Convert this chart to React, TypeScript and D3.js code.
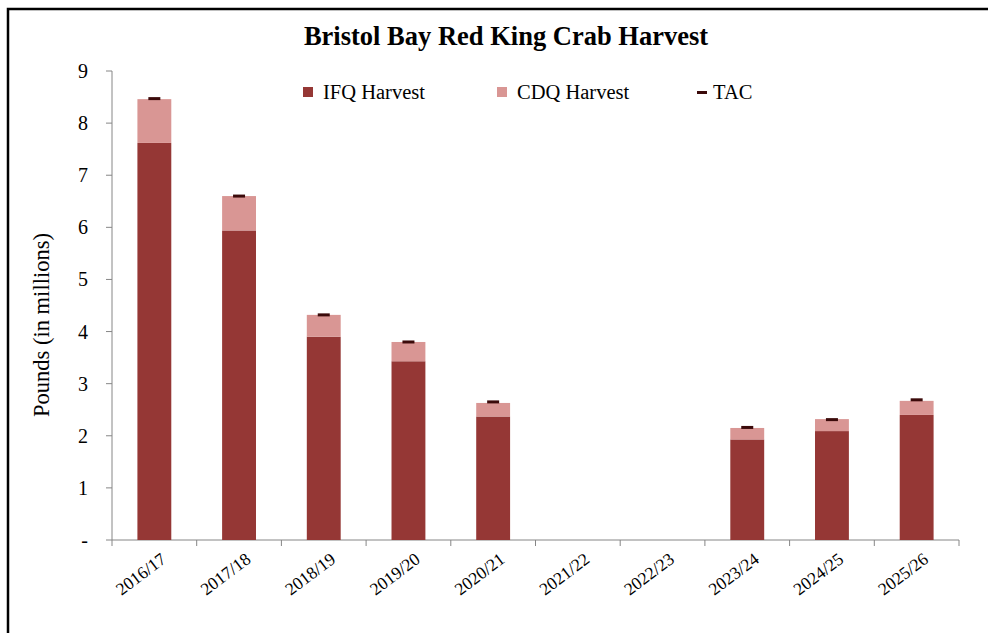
import React from "react";
import * as d3 from "d3";

const categories = ["2016/17", "2017/18", "2018/19", "2019/20", "2020/21", "2021/22", "2022/23", "2023/24", "2024/25", "2025/26"];
const ifqHarvest = [7.62, 5.94, 3.9, 3.43, 2.37, 0, 0, 1.93, 2.09, 2.4];
const cdqHarvest = [0.84, 0.66, 0.42, 0.37, 0.26, 0, 0, 0.22, 0.23, 0.27];
const tac = [8.47, 6.6, 4.32, 3.8, 2.65, null, null, 2.16, 2.31, 2.69];
const yTicks = [0, 1, 2, 3, 4, 5, 6, 7, 8, 9];

const W = 988, H = 633;
const left = 112, right = 959, top = 71, bottom = 540;
const IFQ = "#953735", CDQ = "#D99694", TACC = "#3b0a0a";
const FONT = "'Liberation Serif', 'DejaVu Serif', serif";
const AXIS = "#868686";

export default function App() {
  const x = d3.scaleBand<string>().domain(categories).range([left, right]).paddingInner(0.6).paddingOuter(0.3);
  const xb = d3.scaleBand<string>().domain(categories).range([left, right]);
  const y = d3.scaleLinear().domain([0, 9]).range([bottom, top]);
  const bw = x.bandwidth();

  return (
    <svg width={W} height={H} style={{ position: "absolute", left: 0, top: 0, background: "#fff" }} fontFamily={FONT}>
      <rect x={0} y={0} width={W} height={H} fill="#fff" />
      <path d={`M8,${H + 2} L8,9 L${W + 2},9`} fill="none" stroke="#000" strokeWidth={2.5} />
      <text x={506} y={45} textAnchor="middle" fontSize={26.5} fontWeight="bold" fill="#000">Bristol Bay Red King Crab Harvest</text>

      {/* y axis */}
      <line x1={left} x2={left} y1={top} y2={bottom} stroke={AXIS} strokeWidth={1} />
      {yTicks.map((t) => (
        <g key={t}>
          <line x1={left - 6} x2={left} y1={y(t)} y2={y(t)} stroke={AXIS} />
          <text x={88} y={y(t)} dy="0.35em" textAnchor="end" fontSize={20} fill="#000">{t === 0 ? "-" : t}</text>
        </g>
      ))}
      <text transform={`translate(49,${325}) rotate(-90)`} textAnchor="middle" fontSize={22.5} fill="#000">Pounds (in millions)</text>

      {/* x axis */}
      <line x1={left} x2={right} y1={bottom} y2={bottom} stroke={AXIS} />
      {[...categories.map((c) => xb(c) as number), right].map((p, i) => (
        <line key={i} x1={p} x2={p} y1={bottom} y2={bottom + 6} stroke={AXIS} />
      ))}
      {categories.map((c) => {
        const cx = (xb(c) as number) + xb.bandwidth() / 2;
        return (
          <text key={c} transform={`translate(${cx + 5},${551}) rotate(-37)`} textAnchor="end" dy="0.75em" fontSize={17.5} fill="#000">{c}</text>
        );
      })}

      {/* bars */}
      {categories.map((c, i) => {
        const bx = x(c) as number;
        const total = ifqHarvest[i] + cdqHarvest[i];
        return (
          <g key={c}>
            {ifqHarvest[i] > 0 && <rect x={bx} width={bw} y={y(ifqHarvest[i])} height={y(0) - y(ifqHarvest[i])} fill={IFQ} />}
            {cdqHarvest[i] > 0 && <rect x={bx} width={bw} y={y(total)} height={y(ifqHarvest[i]) - y(total)} fill={CDQ} />}
            {tac[i] != null && <rect x={bx + bw / 2 - 6} width={12} y={y(tac[i] as number) - 1.5} height={3} fill={TACC} />}
          </g>
        );
      })}

      {/* legend */}
      <rect x={303} y={87} width={10} height={10} fill={IFQ} />
      <text x={323} y={92} dy="0.35em" fontSize={20.5} fill="#000">IFQ Harvest</text>
      <rect x={497} y={87} width={10} height={10} fill={CDQ} />
      <text x={517} y={92} dy="0.35em" fontSize={20.5} fill="#000">CDQ Harvest</text>
      <rect x={697} y={91} width={10} height={3} fill={TACC} />
      <text x={713} y={92} dy="0.35em" fontSize={20.5} fill="#000">TAC</text>
    </svg>
  );
}
